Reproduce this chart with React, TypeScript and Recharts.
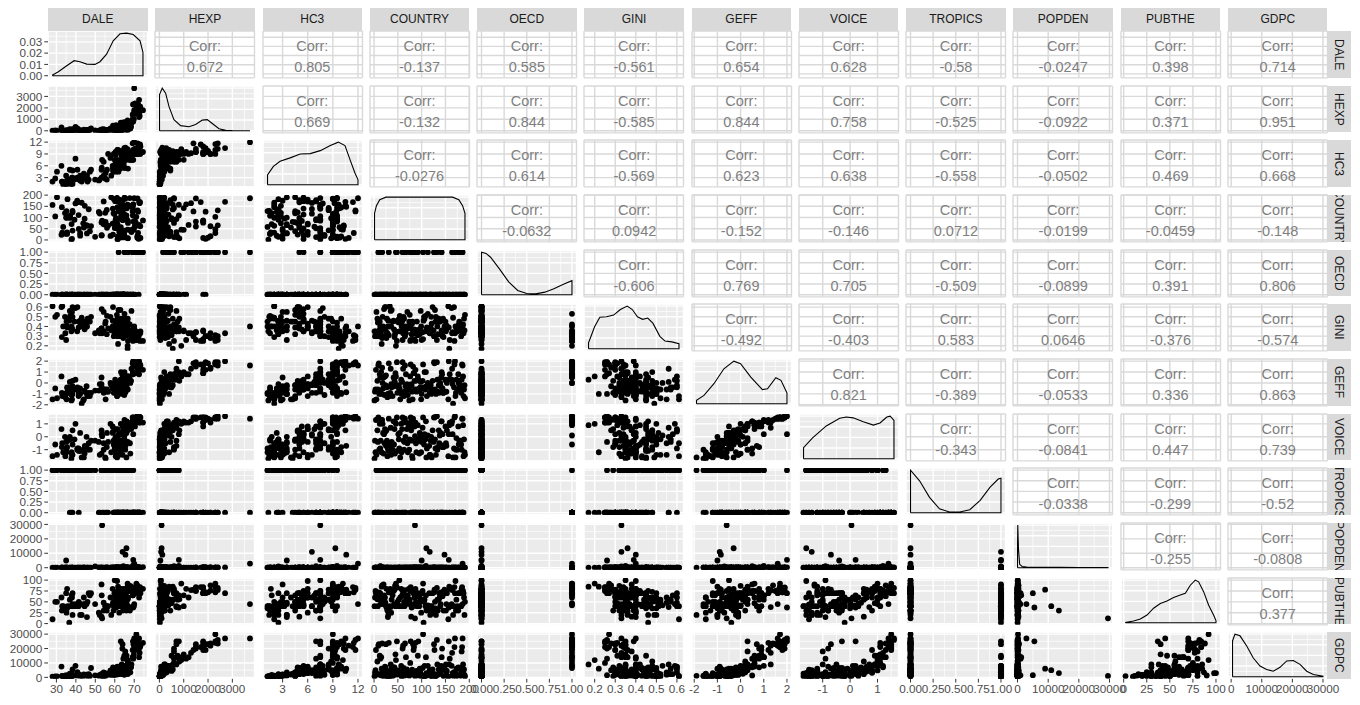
import React from 'react';
import { ScatterChart, Scatter, XAxis, YAxis, CartesianGrid } from 'recharts';

const FONT = '"Liberation Sans", Arial, Helvetica, sans-serif';

const VARS = ['DALE', 'HEXP', 'HC3', 'COUNTRY', 'OECD', 'GINI', 'GEFF', 'VOICE', 'TROPICS', 'POPDEN', 'PUBTHE', 'GDPC'];

// one entry per country, same order in every array
const country = [
  1, 2, 3, 4, 5, 7, 8, 9, 10, 11,
  12, 13, 14, 15, 16, 17, 18, 19, 20, 21,
  22, 23, 24, 25, 26, 27, 28, 29, 30, 31,
  33, 34, 35, 36, 37, 39, 41, 42, 43, 44,
  45, 46, 48, 49, 51, 52, 53, 54, 55, 57,
  58, 59, 60, 61, 62, 63, 64, 65, 66, 67,
  69, 70, 71, 73, 74, 75, 76, 77, 78, 79,
  80, 81, 82, 83, 84, 85, 86, 87, 88, 89,
  90, 92, 93, 95, 96, 97, 98, 99, 100, 102,
  103, 104, 105, 106, 108, 109, 110, 111, 113, 116,
  117, 118, 119, 120, 121, 123, 125, 126, 127, 128,
  129, 130, 132, 133, 134, 136, 137, 138, 139, 140,
  141, 142, 143, 144, 145, 146, 148, 150, 151, 152,
  153, 156, 157, 158, 159, 163, 164, 165, 166, 168,
  169, 170, 171, 172, 173, 175, 177, 178, 179, 180,
  182, 183, 184, 185, 186, 187, 188, 189, 190, 191,
];

const dale = [
  37.7, 61.4, 61.6, 72.3, 38.0, 66.7, 66.7, 73.2, 71.6, 63.7,
  64.9, 64.4, 49.9, 65.0, 61.7, 71.6, 57.8, 42.2, 53.2, 53.3,
  64.9, 32.6, 59.1, 64.0, 64.4, 35.5, 34.6, 45.7, 42.2, 72.0,
  33.0, 35.5, 68.6, 62.3, 62.9, 47.2, 65.1, 38.3, 68.4, 68.0,
  69.8, 66.6, 69.4, 41.5, 62.0, 61.1, 60.0, 56.0, 44.1, 63.1,
  33.5, 60.4, 70.5, 73.1, 47.8, 46.0, 56.6, 70.4, 45.5, 72.5,
  61.4, 54.3, 37.8, 58.9, 43.8, 61.1, 66.8, 70.8, 53.2, 60.7,
  60.5, 55.3, 69.6, 70.4, 70.0, 66.8, 53.5, 74.5, 64.1, 60.4,
  39.3, 66.1, 63.1, 44.5, 66.0, 60.6, 36.9, 35.2, 35.0, 64.6,
  71.1, 36.6, 29.4, 63.2, 37.1, 69.3, 66.0, 41.4, 65.0, 59.8,
  64.0, 52.3, 59.4, 34.4, 55.1, 38.3, 51.8, 72.0, 69.2, 61.9,
  35.2, 38.3, 71.7, 63.6, 55.9, 64.3, 46.6, 64.6, 64.2, 59.0,
  66.2, 69.3, 63.9, 62.9, 61.3, 32.8, 65.5, 64.1, 67.8, 44.6,
  64.9, 28.0, 69.5, 66.6, 69.5, 39.8, 72.8, 62.8, 43.0, 40.8,
  73.0, 72.5, 61.2, 54.3, 60.2, 40.7, 64.2, 62.0, 62.4, 62.2,
  35.7, 59.5, 65.4, 71.7, 70.0, 67.7, 61.2, 65.0, 58.2, 30.3,
];

const hexp = [
  11, 60, 110, 1900, 50, 820, 70, 1800, 2000, 40,
  750, 600, 30, 700, 400, 2100, 200, 30, 70, 120,
  150, 300, 450, 700, 240, 25, 15, 30, 35, 2300,
  25, 20, 700, 80, 450, 40, 350, 40, 350, 200,
  1000, 900, 2300, 80, 250, 200, 60, 80, 100, 350,
  5, 200, 1500, 2100, 200, 30, 80, 2400, 70, 1200,
  200, 150, 50, 250, 20, 140, 600, 1800, 70, 70,
  120, 20, 1500, 1800, 1800, 300, 90, 1800, 250, 80,
  30, 500, 700, 15, 150, 500, 150, 15, 40, 250,
  2300, 20, 30, 200, 10, 800, 90, 25, 370, 150,
  70, 30, 200, 15, 25, 150, 20, 1900, 1400, 130,
  20, 25, 2400, 200, 20, 550, 100, 270, 150, 150,
  300, 1000, 600, 180, 70, 10, 120, 300, 230, 45,
  280, 20, 800, 550, 1100, 330, 1300, 50, 20, 200,
  1700, 2700, 50, 40, 90, 25, 450, 150, 180, 110,
  20, 75, 600, 1500, 3724, 600, 35, 200, 20, 15,
];

const hc3 = [
  1.3, 7.5, 5.5, 10.5, 3.0, 8.8, 9.5, 10.9, 9.8, 9.5,
  9.0, 7.0, 2.5, 9.5, 10.0, 9.0, 8.0, 2.3, 3.0, 5.5,
  8.0, 6.0, 4.8, 7.5, 9.0, 1.5, 1.5, 3.5, 3.5, 11.5,
  2.0, 1.6, 7.5, 6.0, 5.3, 4.5, 7.5, 3.0, 8.5, 9.0,
  9.0, 10.2, 10.0, 3.0, 5.5, 7.0, 7.5, 5.0, 4.0, 9.8,
  1.2, 6.8, 10.3, 9.0, 5.0, 2.0, 9.0, 10.3, 3.5, 9.0,
  6.0, 3.5, 1.7, 6.0, 2.8, 4.8, 9.0, 9.0, 5.0, 4.5,
  5.0, 4.2, 9.5, 9.3, 9.0, 5.3, 7.5, 9.5, 7.0, 9.5,
  2.5, 7.5, 7.0, 3.2, 9.5, 8.8, 5.0, 2.0, 3.5, 9.5,
  9.0, 2.5, 2.8, 7.5, 1.5, 9.5, 9.3, 2.6, 5.5, 9.0,
  6.5, 2.5, 4.5, 1.7, 2.8, 4.8, 2.3, 9.4, 11.7, 4.5,
  1.2, 1.4, 11.7, 8.5, 2.5, 8.5, 2.5, 6.5, 7.5, 5.5,
  9.8, 7.5, 8.5, 9.5, 10.0, 2.0, 10.6, 7.5, 7.5, 2.8,
  10.5, 2.0, 7.5, 9.7, 9.5, 7.8, 9.2, 6.5, 2.0, 5.0,
  11.4, 10.5, 6.0, 7.0, 5.5, 3.0, 7.0, 5.0, 5.5, 6.0,
  2.5, 9.0, 9.0, 9.5, 12.0, 7.5, 9.5, 5.5, 3.5, 4.5,
];

const oecd = [
  0, 0, 0, 0, 0, 0, 0, 1, 1, 0,
  0, 0, 0, 0, 0, 1, 0, 0, 0, 0,
  0, 0, 0, 0, 0, 0, 0, 0, 0, 1,
  0, 0, 0, 0, 0, 0, 0, 0, 0, 0,
  0, 1, 1, 0, 0, 0, 0, 0, 0, 0,
  0, 0, 1, 1, 0, 0, 0, 1, 0, 1,
  0, 0, 0, 0, 0, 0, 1, 1, 0, 0,
  0, 0, 1, 0, 1, 0, 0, 1, 0, 0,
  0, 1, 0, 0, 0, 0, 0, 0, 0, 0,
  1, 0, 0, 0, 0, 0, 0, 0, 1, 0,
  0, 0, 0, 0, 0, 0, 0, 1, 1, 0,
  0, 0, 1, 0, 0, 0, 0, 0, 0, 0,
  1, 1, 0, 0, 0, 0, 0, 0, 0, 0,
  0, 0, 0, 0, 0, 0, 1, 0, 0, 0,
  1, 1, 0, 0, 0, 0, 0, 1, 0, 0,
  0, 0, 0, 1, 1, 0, 0, 0, 0, 0,
];

const gini = [
  0.35, 0.30, 0.35, 0.30, 0.55, 0.48, 0.44, 0.35, 0.30, 0.36,
  0.45, 0.40, 0.33, 0.40, 0.22, 0.28, 0.50, 0.40, 0.38, 0.58,
  0.30, 0.60, 0.60, 0.35, 0.28, 0.48, 0.33, 0.40, 0.46, 0.31,
  0.61, 0.40, 0.56, 0.40, 0.57, 0.45, 0.46, 0.37, 0.29, 0.32,
  0.35, 0.20, 0.25, 0.45, 0.47, 0.44, 0.35, 0.51, 0.45, 0.35,
  0.40, 0.45, 0.26, 0.33, 0.50, 0.48, 0.38, 0.30, 0.40, 0.33,
  0.38, 0.55, 0.40, 0.40, 0.45, 0.52, 0.25, 0.26, 0.38, 0.32,
  0.43, 0.45, 0.34, 0.36, 0.27, 0.37, 0.33, 0.25, 0.36, 0.35,
  0.45, 0.31, 0.35, 0.37, 0.32, 0.35, 0.56, 0.40, 0.26, 0.34,
  0.27, 0.46, 0.50, 0.48, 0.51, 0.35, 0.36, 0.39, 0.53, 0.34,
  0.33, 0.33, 0.39, 0.50, 0.43, 0.60, 0.36, 0.30, 0.30, 0.57,
  0.45, 0.50, 0.26, 0.40, 0.32, 0.48, 0.45, 0.46, 0.45, 0.46,
  0.32, 0.36, 0.35, 0.30, 0.48, 0.29, 0.40, 0.45, 0.35, 0.41,
  0.38, 0.61, 0.39, 0.17, 0.26, 0.59, 0.33, 0.34, 0.49, 0.60,
  0.25, 0.33, 0.40, 0.35, 0.35, 0.35, 0.40, 0.42, 0.45, 0.43,
  0.39, 0.30, 0.38, 0.34, 0.40, 0.42, 0.33, 0.48, 0.36, 0.52,
];

const geff = [
  -1.6, -0.8, -0.6, 1.2, -1.5, 0.2, -0.6, 1.6, 1.8, -1.0,
  0.8, 0.5, -0.7, 1.0, -1.0, 1.4, 0.0, -0.5, 0.5, -0.4,
  -1.1, 0.6, -0.2, 0.7, -0.3, -0.4, -1.3, -1.0, -1.0, 1.8,
  -1.2, -0.9, 1.3, -0.1, -0.4, -1.2, 0.5, -0.3, 0.2, 0.0,
  0.9, 0.6, 1.9, -0.9, -0.4, -0.2, -0.5, -0.6, -1.5, 0.3,
  -1.0, 0.1, 1.9, 1.3, -0.9, -1.2, -0.8, 1.6, -0.3, 0.8,
  -0.1, -0.6, -1.1, -0.5, -1.6, -0.6, 0.6, 1.7, -0.1, -0.2,
  -0.8, -1.5, 1.5, 0.9, 0.9, 0.2, -0.6, 1.2, 0.2, -0.8,
  -0.6, 0.6, 0.3, -0.7, -0.5, -0.4, 0.1, -1.5, -1.0, 0.2,
  1.7, -0.4, -0.5, 1.0, -0.6, 1.0, -0.3, -1.2, 0.0, -0.4,
  -0.9, -0.1, -0.2, -1.0, -0.6, 0.2, -0.7, 1.9, 1.8, -0.6,
  -0.9, -1.0, 1.9, 0.3, -0.8, -0.2, -0.9, -0.2, 0.0, -0.3,
  0.5, 1.0, 0.8, -0.5, -0.9, -0.9, -0.85, 0.3, 0.2, -0.8,
  0.0, -1.5, 2.0, 0.3, 0.8, 0.3, 1.3, -0.1, -1.9, -0.4,
  1.7, 2.0, -1.2, -0.9, 0.3, -0.6, 0.8, 0.0, -0.1, -0.2,
  -0.5, -0.9, 0.3, 1.7, 1.6, 0.6, -1.2, -0.6, -0.2, -1.4,
];

const voice = [
  -1.7, -0.3, -1.2, 1.3, -1.4, 0.5, -0.4, 1.5, 1.4, -1.0,
  1.0, -0.9, -0.3, 1.3, -1.2, 1.3, 1.0, 0.3, -1.3, 0.2,
  -0.5, 0.6, 0.4, -0.7, 0.5, -0.3, -1.5, -0.9, -1.1, 1.4,
  -0.5, -0.8, 0.7, -1.4, -0.4, -1.0, 1.2, -0.6, 0.6, -1.3,
  1.1, 1.0, 1.5, -1.1, 0.2, -0.2, -0.9, 0.3, -1.6, 1.0,
  -1.2, 0.6, 1.5, 1.1, -0.3, -1.0, -0.4, 1.4, 0.0, 1.1,
  0.6, -0.5, -1.2, 0.8, -1.0, -0.2, 1.1, 1.5, 0.5, -0.3,
  -1.5, -1.7, 1.4, 0.8, 1.1, 0.8, 0.05, 1.1, -0.5, -1.2,
  -0.2, 0.9, -0.3, -1.3, 0.3, 0.0, 0.0, -1.2, -0.4, 0.7,
  1.5, -0.2, -0.6, 0.2, -0.2, 1.2, -1.6, -0.9, 0.1, -0.7,
  -1.4, -1.4, -0.3, 0.0, -1.6, 0.5, -0.4, 1.5, 1.5, -0.2,
  -0.9, -1.4, 1.6, -1.0, -0.8, 0.5, -0.5, 0.1, -0.6, 0.3,
  1.2, 1.2, -0.8, 0.2, -0.8, -0.8, -0.7, 0.8, -0.5, -0.7,
  0.5, -1.5, 0.2, 0.9, 1.1, 1.0, 1.2, 0.2, -1.6, -0.9,
  1.5, 1.6, -1.6, -1.0, -0.1, -1.0, 0.8, -0.6, -0.3, -0.4,
  -0.3, -0.6, -1.0, 1.4, 1.4, 0.9, -1.5, -0.2, -1.2, -1.4,
];

const tropics = [
  0, 0, 0, 0, 1, 0, 0, 0, 0, 0,
  1, 0, 1, 1, 0, 0, 1, 1, 1, 1,
  0, 1, 1, 1, 0, 1, 1, 1, 1, 0,
  1, 1, 0, 0, 1, 1, 1, 1, 0, 1,
  0, 0, 0, 0, 1, 1, 0, 1, 1, 0,
  1, 1, 0, 0, 1, 1, 0, 0, 1, 0,
  1, 1, 1, 1, 1, 1, 0, 0, 1, 1,
  0, 0, 0, 0, 0, 1, 0, 0, 0, 0,
  1, 0, 0, 1, 0, 0, 0, 1, 1, 0,
  0, 1, 1, 1, 1, 0, 0, 1, 1, 0,
  1, 0, 0, 1, 1, 0, 0, 0, 0, 1,
  1, 1, 0, 0, 0, 1, 1, 0, 0, 1,
  0, 0, 0, 0, 0, 1, 0, 1, 0, 1,
  0, 1, 1, 0, 0, 1, 0, 1, 1, 1,
  0, 0, 0, 0, 1, 1, 1, 0, 0, 0,
  1, 0, 0, 0, 0, 0, 0, 1, 1, 1,
];

const popden = [
  35, 120, 13, 140, 10, 13, 130, 3, 97, 90,
  22, 1000, 950, 620, 50, 330, 10, 55, 45, 7,
  80, 3, 20, 60, 75, 40, 250, 65, 30, 3,
  6, 6, 20, 130, 36, 8, 70, 45, 80, 100,
  80, 130, 125, 30, 170, 45, 65, 290, 16, 33,
  55, 45, 15, 107, 5, 110, 78, 230, 80, 80,
  280, 10, 30, 4, 260, 55, 110, 3, 300, 110,
  37, 55, 55, 290, 190, 240, 29500, 330, 50, 6,
  50, 470, 120, 23, 37, 400, 70, 30, 5000, 60,
  170, 25, 100, 65, 9, 1200, 13500, 3, 50, 115,
  11000, 2, 62, 22, 70, 2, 160, 460, 14, 40,
  8, 120, 13, 8, 170, 37, 10, 12, 20, 260,
  120, 110, 50, 95, 9, 300, 9000, 240, 11, 48,
  18, 60, 5500, 110, 100, 35, 80, 290, 12, 55,
  20, 180, 90, 45, 120, 80, 250, 85, 80, 80,
  90, 85, 28, 240, 2900, 19, 50, 25, 230, 30,
];

const pubthe = [
  40, 60, 75, 70, 60, 56, 40, 70, 72, 70,
  55, 70, 45, 63, 85, 88, 60, 45, 90, 65,
  50, 60, 48, 40, 80, 35, 30, 15, 20, 72,
  40, 80, 38, 25, 55, 65, 75, 45, 78, 87,
  40, 92, 83, 50, 40, 55, 100, 40, 60, 80,
  40, 65, 76, 76, 70, 50, 40, 77, 45, 60,
  60, 48, 65, 80, 45, 55, 75, 84, 16, 37,
  44, 40, 75, 70, 70, 60, 12, 80, 50, 70,
  40, 47, 70, 40, 60, 50, 55, 25, 70, 75,
  92, 2, 50, 55, 40, 65, 30, 40, 42, 70,
  40, 20, 30, 35, 40, 70, 25, 72, 78, 50,
  35, 20, 82, 55, 30, 55, 70, 60, 40, 45,
  72, 65, 70, 63, 73, 30, 78, 70, 30, 45,
  70, 10, 37, 85, 80, 45, 77, 40, 20, 40,
  84, 70, 98, 30, 55, 40, 30, 70, 70, 70,
  40, 40, 80, 84, 45, 75, 70, 60, 20, 50,
];

const gdpc = [
  700, 3200, 5000, 19000, 1900, 11000, 2300, 22000, 23000, 2200,
  15000, 13000, 1400, 14000, 6000, 23500, 4800, 1000, 1300, 2300,
  1800, 7500, 7000, 23000, 5000, 950, 600, 1300, 1600, 24000,
  1100, 850, 9000, 3600, 6000, 1000, 7000, 1600, 7000, 3500,
  16000, 12000, 25000, 2000, 4800, 3000, 3000, 2800, 2000, 8000,
  550, 4000, 20000, 22000, 6500, 1200, 2000, 23500, 1800, 14000,
  5500, 3500, 1700, 3200, 1200, 2200, 10000, 25000, 2200, 3500,
  5400, 2500, 23000, 19000, 21000, 3500, 1000, 24000, 3800, 4500,
  1400, 15000, 25000, 1300, 6000, 4500, 2500, 1000, 1500, 6500,
  30000, 850, 600, 8000, 700, 14000, 3000, 1700, 8000, 1600,
  5000, 1700, 3500, 850, 1000, 5500, 1100, 23000, 19000, 2200,
  750, 800, 26000, 9000, 1800, 5500, 2300, 4500, 4400, 3500,
  8000, 14000, 20000, 5500, 7500, 900, 6000, 5000, 9000, 1700,
  4500, 450, 25000, 9000, 13000, 8000, 17000, 3000, 1100, 3600,
  21000, 27000, 2900, 1000, 6000, 1300, 7000, 6500, 6000, 6500,
  1100, 3500, 18000, 21000, 27000, 9000, 2000, 5500, 1700, 650,
];

const COLS = [dale, hexp, hc3, country, oecd, gini, geff, voice, tropics, popden, pubthe, gdpc];

// axis breaks per variable
const MAJOR = [
  [30, 40, 50, 60, 70],
  [0, 1000, 2000, 3000],
  [3, 6, 9, 12],
  [0, 50, 100, 150, 200],
  [0, 0.25, 0.5, 0.75, 1],
  [0.2, 0.3, 0.4, 0.5, 0.6],
  [-2, -1, 0, 1, 2],
  [-1, 0, 1],
  [0, 0.25, 0.5, 0.75, 1],
  [0, 10000, 20000, 30000],
  [0, 25, 50, 75, 100],
  [0, 10000, 20000, 30000],
];
const MINOR = [
  [25, 35, 45, 55, 65, 75],
  [-500, 500, 1500, 2500, 3500],
  [1.5, 4.5, 7.5, 10.5, 13.5],
  [-25, 25, 75, 125, 175],
  [0.125, 0.375, 0.625, 0.875],
  [0.15, 0.25, 0.35, 0.45, 0.55, 0.65],
  [-1.5, -0.5, 0.5, 1.5],
  [-1.5, -0.5, 0.5, 1.5],
  [0.125, 0.375, 0.625, 0.875],
  [-5000, 5000, 15000, 25000],
  [12.5, 37.5, 62.5, 87.5],
  [-5000, 5000, 15000, 25000],
];

const dDaleX = [28, 31.0, 35.3, 39.1, 42.1, 45.6, 49.8, 52.4, 55.8, 59.2, 62.7, 66.1, 69.5, 73.0, 74.5];
const dDaleY = [0.0006, 0.0035, 0.0088, 0.0133, 0.0124, 0.0103, 0.0100, 0.0124, 0.0191, 0.0309, 0.0371, 0.0377, 0.0365, 0.0309, 0.0206];
const dHexpX = [5, 116, 256, 392, 598, 873, 1215, 1490, 1762, 1968, 2174, 2450, 2725, 3000, 3724];
const dHexpY = [0.85, 1.0, 0.88, 0.57, 0.26, 0.12, 0.093, 0.147, 0.248, 0.26, 0.17, 0.047, 0.008, 0.002, 0.0];
const dHc3X = [1.2, 1.9, 2.7, 3.9, 5.1, 6.3, 7.5, 8.7, 9.65, 10.45, 11.05, 11.65, 12.0];
const dHc3Y = [0.23, 0.43, 0.55, 0.63, 0.72, 0.73, 0.80, 0.92, 1.0, 0.92, 0.59, 0.27, 0.12];
const dCountryX = [1, 5, 12, 25, 100, 165, 178, 186, 191];
const dCountryY = [0.62, 0.8, 0.94, 1.0, 1.0, 1.0, 0.94, 0.8, 0.62];
const dOecdX = [0, 0.05, 0.1, 0.2, 0.3, 0.4, 0.5, 0.6, 0.7, 0.8, 0.9, 1.0];
const dOecdY = [1.0, 0.97, 0.88, 0.6, 0.3, 0.1, 0.03, 0.02, 0.06, 0.14, 0.24, 0.33];
const dGiniX = [0.17, 0.2, 0.225, 0.258, 0.292, 0.325, 0.358, 0.383, 0.408, 0.433, 0.458, 0.483, 0.517, 0.542, 0.575, 0.61];
const dGiniY = [0.14, 0.52, 0.74, 0.75, 0.79, 0.92, 1.0, 0.92, 0.75, 0.69, 0.72, 0.6, 0.29, 0.18, 0.16, 0.12];
const dGeffX = [-1.9, -1.58, -1.15, -0.72, -0.29, 0.0, 0.44, 0.94, 1.16, 1.52, 1.74, 1.95, 2.0];
const dGeffY = [0.08, 0.195, 0.47, 0.82, 1.0, 0.94, 0.625, 0.33, 0.35, 0.61, 0.55, 0.31, 0.25];
const dVoiceX = [-1.7, -1.37, -0.87, -0.38, -0.14, 0.11, 0.48, 0.85, 1.09, 1.34, 1.46, 1.6];
const dVoiceY = [0.26, 0.49, 0.77, 0.95, 0.98, 0.96, 0.87, 0.79, 0.84, 0.98, 1.0, 0.9];
const dTropicsX = [0, 0.1, 0.21, 0.32, 0.43, 0.545, 0.655, 0.77, 0.88, 0.97, 1.0];
const dTropicsY = [1.0, 0.75, 0.36, 0.09, 0.016, 0.016, 0.07, 0.29, 0.6, 0.79, 0.81];
const dPopdenX = [2, 80, 300, 700, 1500, 3000, 6000, 10000, 14000, 20000, 29500];
const dPopdenY = [0.5, 1.0, 0.45, 0.08, 0.03, 0.015, 0.012, 0.01, 0.008, 0.005, 0.004];
const dPubtheX = [2, 10.8, 18, 25.3, 32.4, 39.7, 46.9, 54.1, 61.3, 66.8, 72.2, 77.6, 81.2, 86.6, 92.1, 97.4, 100];
const dPubtheY = [0.008, 0.04, 0.086, 0.18, 0.34, 0.45, 0.51, 0.59, 0.65, 0.69, 0.88, 1.0, 0.96, 0.73, 0.41, 0.18, 0.05];
const dGdpcX = [450, 1259, 2892, 5080, 7240, 9426, 11600, 13770, 15960, 18150, 20300, 22500, 24680, 26840, 30000];
const dGdpcY = [0.84, 1.0, 0.96, 0.72, 0.44, 0.25, 0.17, 0.13, 0.22, 0.37, 0.38, 0.29, 0.13, 0.05, 0.01];

const DENS = [
  [dDaleX, dDaleY], [dHexpX, dHexpY], [dHc3X, dHc3Y], [dCountryX, dCountryY],
  [dOecdX, dOecdY], [dGiniX, dGiniY], [dGeffX, dGeffY], [dVoiceX, dVoiceY],
  [dTropicsX, dTropicsY], [dPopdenX, dPopdenY], [dPubtheX, dPubtheY], [dGdpcX, dGdpcY],
];
const densMajor = [0, 0.01, 0.02, 0.03];
const densMinor = [0.005, 0.015, 0.025, 0.035];
const relMajor = [0, 0.25, 0.5, 0.75, 1];
const relMinor = [0.125, 0.375, 0.625, 0.875];

// correlation labels, upper triangle, row by row
const corrDale = ['0.672', '0.805', '-0.137', '0.585', '-0.561', '0.654', '0.628', '-0.58', '-0.0247', '0.398', '0.714'];
const corrHexp = ['0.669', '-0.132', '0.844', '-0.585', '0.844', '0.758', '-0.525', '-0.0922', '0.371', '0.951'];
const corrHc3 = ['-0.0276', '0.614', '-0.569', '0.623', '0.638', '-0.558', '-0.0502', '0.469', '0.668'];
const corrCountry = ['-0.0632', '0.0942', '-0.152', '-0.146', '0.0712', '-0.0199', '-0.0459', '-0.148'];
const corrOecd = ['-0.606', '0.769', '0.705', '-0.509', '-0.0899', '0.391', '0.806'];
const corrGini = ['-0.492', '-0.403', '0.583', '0.0646', '-0.376', '-0.574'];
const corrGeff = ['0.821', '-0.389', '-0.0533', '0.336', '0.863'];
const corrVoice = ['-0.343', '-0.0841', '0.447', '0.739'];
const corrTropics = ['-0.0338', '-0.299', '-0.52'];
const corrPopden = ['-0.255', '-0.0808'];
const corrPubthe = ['0.377'];
const CORR = [corrDale, corrHexp, corrHc3, corrCountry, corrOecd, corrGini, corrGeff, corrVoice, corrTropics, corrPopden, corrPubthe, []];

const N = VARS.length;
const X0 = 48, Y0 = 31, PW = 99.5, PH = 46.85, SX = 107.27, SY = 54.65;
const YW = 40, XH = 24;

const ext = (a: number[]): [number, number] => {
  const lo = Math.min(...a), hi = Math.max(...a), pad = (hi - lo) * 0.05;
  return [lo - pad, hi + pad];
};
const DOMS = COLS.map(ext);
const inside = (t: number[], d: [number, number]) => t.filter(v => v >= d[0] && v <= d[1]);

const fmtVar = (k: number) => (v: number) =>
  k === 4 || k === 8 ? v.toFixed(2) : k === 5 ? v.toFixed(1) : String(v);

const tickText = { fill: '#4D4D4D', fontSize: 11.7, fontFamily: FONT };
const dot = (p: any) => <circle cx={p.cx} cy={p.cy} r={2.9} fill="#000" />;
const noDot = () => <g />;

function Panel({ r, c }: { r: number; c: number }) {
  const left = c === 0, bottom = r === N - 1;
  const diag = r === c, upper = c > r;
  const w = PW + (left ? YW : 0);
  const h = PH + (bottom ? XH : 0);
  const xd = DOMS[c];

  let yd: [number, number] = DOMS[r];
  let yM = MAJOR[r], ym = inside(MINOR[r], yd);
  let yFmt = fmtVar(r);
  let data: { x: number; y: number }[] = [];

  if (diag) {
    const [xs, ys] = DENS[c];
    const peak = Math.max(...ys);
    yd = [-0.05 * peak, 1.05 * peak];
    yM = c === 0 ? densMajor : relMajor;
    ym = c === 0 ? densMinor : relMinor;
    yFmt = (v: number) => v.toFixed(2);
    // closed outline: baseline, curve, baseline
    data = [
      { x: xs[0], y: 0 },
      ...xs.map((x, i) => ({ x, y: ys[i] })),
      { x: xs[xs.length - 1], y: 0 },
      { x: xs[0], y: 0 },
    ];
  } else if (!upper) {
    data = COLS[c].map((x, i) => ({ x, y: COLS[r][i] }));
  }

  return (
    <div style={{ position: 'absolute', left: X0 + c * SX - (left ? YW : 0), top: Y0 + r * SY, width: w, height: h }}>
      <ScatterChart width={w} height={h} margin={{ top: 0, right: 0, bottom: 0, left: 0 }}>
        <XAxis xAxisId="mn" type="number" dataKey="x" domain={xd} ticks={inside(MINOR[c], xd)} allowDataOverflow hide />
        <YAxis yAxisId="mn" type="number" dataKey="y" domain={yd} ticks={ym} allowDataOverflow hide />
        <XAxis xAxisId="mj" type="number" dataKey="x" domain={xd} ticks={MAJOR[c]} allowDataOverflow
          hide={!bottom} height={XH} interval={0} tickSize={3.7} tickMargin={2} axisLine={false}
          tickLine={{ stroke: '#333333' }} tick={tickText} tickFormatter={fmtVar(c)} />
        <YAxis yAxisId="mj" type="number" dataKey="y" domain={yd} ticks={yM} allowDataOverflow
          hide={!left} width={YW} interval={0} tickSize={3.7} tickMargin={2} axisLine={false}
          tickLine={{ stroke: '#333333' }} tick={tickText} tickFormatter={yFmt} />
        <CartesianGrid xAxisId="mn" yAxisId="mn" fill={upper ? '#FFFFFF' : '#EBEBEB'} fillOpacity={1}
          stroke={upper ? 'none' : '#FFFFFF'} strokeWidth={0.7} />
        <CartesianGrid xAxisId="mj" yAxisId="mj" stroke={upper ? '#D9D9D9' : '#FFFFFF'} strokeWidth={1.4} />
        {!upper && !diag && (
          <Scatter xAxisId="mj" yAxisId="mj" data={data} shape={dot} isAnimationActive={false} />
        )}
        {diag && (
          <Scatter xAxisId="mj" yAxisId="mj" data={data} shape={noDot}
            line={{ stroke: '#000000', strokeWidth: 1.1 }} lineType="joint" isAnimationActive={false} />
        )}
      </ScatterChart>
    </div>
  );
}

function CorrText({ r, c }: { r: number; c: number }) {
  const base: React.CSSProperties = {
    position: 'absolute', left: 0, width: PW, textAlign: 'center',
    fontSize: 14.5, lineHeight: '16px', color: '#7F7F7F', fontFamily: FONT,
  };
  return (
    <div style={{ position: 'absolute', left: X0 + c * SX, top: Y0 + r * SY, width: PW, height: PH, pointerEvents: 'none' }}>
      <div style={{ ...base, top: 7 }}>Corr:</div>
      <div style={{ ...base, top: 28 }}>{CORR[r][c - r - 1]}</div>
    </div>
  );
}

export default function App() {
  const cells: React.ReactNode[] = [];
  for (let r = 0; r < N; r++) {
    for (let c = 0; c < N; c++) {
      cells.push(<Panel key={`p${r}-${c}`} r={r} c={c} />);
      if (c > r) cells.push(<CorrText key={`t${r}-${c}`} r={r} c={c} />);
    }
  }

  const strip: React.CSSProperties = {
    position: 'absolute', background: '#D9D9D9', color: '#1A1A1A', fontSize: 12,
    fontFamily: FONT, display: 'flex', alignItems: 'center', justifyContent: 'center',
    overflow: 'hidden', whiteSpace: 'nowrap',
  };

  return (
    <div style={{ position: 'absolute', left: 0, top: 0, width: 1360, height: 705, background: '#FFFFFF', fontFamily: FONT }}>
      <style>{'.recharts-surface{overflow:visible}.recharts-wrapper{overflow:visible}'}</style>
      {cells}
      {VARS.map((v, i) => (
        <div key={`h${v}`} style={{ ...strip, left: X0 + i * SX, top: 7.5, width: PW, height: 23.5 }}>{v}</div>
      ))}
      {VARS.map((v, i) => (
        <div key={`s${v}`} style={{ ...strip, left: X0 + (N - 1) * SX + PW, top: Y0 + i * SY, width: 23.5, height: PH, writingMode: 'vertical-rl' }}>{v}</div>
      ))}
    </div>
  );
}
